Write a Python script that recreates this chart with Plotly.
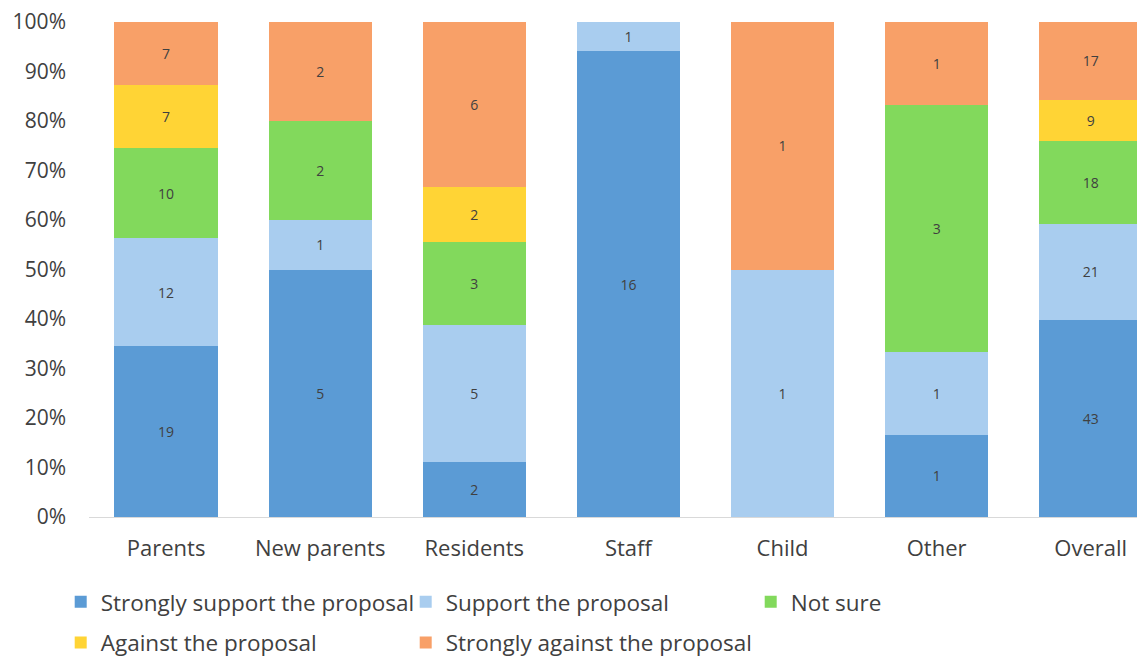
import plotly.graph_objects as go

categories = ["Parents", "New parents", "Residents", "Staff", "Child", "Other", "Overall"]
series_names = [
    "Strongly support the proposal",
    "Support the proposal",
    "Not sure",
    "Against the proposal",
    "Strongly against the proposal",
]
strongly_support = [19, 5, 2, 16, 0, 1, 43]
support = [12, 1, 5, 1, 1, 1, 21]
not_sure = [10, 2, 3, 0, 0, 3, 18]
against = [7, 0, 2, 0, 0, 0, 9]
strongly_against = [7, 2, 6, 0, 1, 1, 17]
y_ticks = [0, 0.1, 0.2, 0.3, 0.4, 0.5, 0.6, 0.7, 0.8, 0.9, 1.0]

colors = ["#5B9BD5", "#A9CDEF", "#82D95C", "#FFD435", "#F8A068"]
legend_ids = ["legend", "legend", "legend", "legend2", "legend2"]
series = [strongly_support, support, not_sure, against, strongly_against]
totals = [sum(v) for v in zip(*series)]

FONT = "Open Sans, sans-serif"

fig = go.Figure()
for name, vals, col, lg in zip(series_names, series, colors, legend_ids):
    fig.add_trace(go.Bar(
        name=name,
        x=categories,
        y=[v / t for v, t in zip(vals, totals)],
        text=[str(v) if v else "" for v in vals],
        textposition="inside",
        insidetextanchor="middle",
        constraintext="none",
        textangle=0,
        textfont=dict(family=FONT, size=14, color="#404040"),
        marker=dict(color=col, line=dict(width=0)),
        hoverinfo="skip",
        legend=lg,
    ))

legend_common = dict(
    orientation="h",
    x=-0.027, xanchor="left",
    yanchor="middle",
    entrywidth=300, entrywidthmode="pixels",
    font=dict(family=FONT, size=22.5, color="#404040"),
    traceorder="normal",
    itemclick=False,
    bgcolor="rgba(0,0,0,0)",
)

fig.update_layout(
    barmode="stack",
    bargap=0.33,
    width=1137,
    height=658,
    margin=dict(l=89, r=0, t=22, b=141, autoexpand=False),
    paper_bgcolor="white",
    plot_bgcolor="white",
    font=dict(family=FONT, color="#404040"),
    showlegend=True,
    legend=dict(y=-0.172, **legend_common),
    legend2=dict(y=-0.2545, **legend_common),
    xaxis=dict(
        range=[-0.5, 6.3],
        showline=True, linecolor="#d9d9d9", linewidth=1,
        showgrid=False, ticks="",
        tickfont=dict(family=FONT, size=22, color="#404040"),
        ticklabelstandoff=12,
    ),
    yaxis=dict(
        range=[0, 1],
        tickvals=y_ticks,
        tickformat=".0%",
        showgrid=False, zeroline=False, showline=False, ticks="",
        tickfont=dict(family=FONT, size=21, color="#404040"),
        ticklabelstandoff=22,
    ),
)

fig.write_html(
    "out.html",
    config={"displayModeBar": False},
    post_script="document.body.style.margin='0';document.body.style.overflow='hidden';",
)
